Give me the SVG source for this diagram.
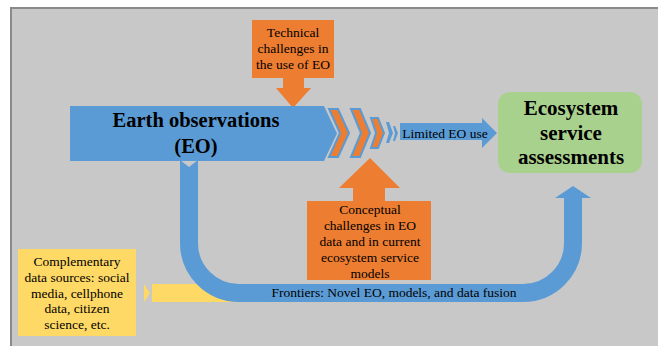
<svg xmlns="http://www.w3.org/2000/svg" width="658" height="346" viewBox="0 0 658 346">
<style>
.t{font-family:'Liberation Serif','Times New Roman',Times,'DejaVu Serif',serif;font-size:13.5px;fill:#000;text-anchor:middle}
.b{font-family:'Liberation Serif','Times New Roman',Times,'DejaVu Serif',serif;font-weight:bold;fill:#000;text-anchor:middle}
.blue{fill:#5b9bd5}
.orange{fill:#ed7d31}
.chev{fill:#ed7d31;stroke:#5b9bd5;stroke-width:2;stroke-linejoin:miter}
</style>
<rect x="0" y="0" width="658" height="346" fill="#ffffff"/>
<rect x="11" y="8" width="648" height="340" fill="#c8c8c8" stroke="#8a8a8a" stroke-width="2"/>

<g id="connectors">
  <rect x="144" y="284" width="100" height="18" fill="#ffd966"/>
  <polygon points="144,284 150,293 144,302 152,302 152,284" fill="#c8c8c8"/>
  <path d="M189,161 V243 A50 50 0 0 0 239 293 H523 A50 50 0 0 0 573 243 V197" fill="none" stroke="#5b9bd5" stroke-width="18"/>
  <polygon points="555,198 591,198 573,186" class="blue"/>
  <polygon points="180,160 198,160 189,167" fill="#c8c8c8"/>
  <polygon points="276,88 283,88 283,78 304,78 304,88 311,88 293,108" class="orange"/>
  <polygon points="339,188 353,188 353,201 385,201 385,188 400,188 370,158" class="orange"/>
  <polygon points="400,123 482,123 482,118 497,133 482,148 482,140 400,140" class="blue"/>
  <text x="445" y="138" class="t">Limited EO use</text>
  <text x="394" y="297" class="t">Frontiers: Novel EO, models, and data fusion</text>
</g>

<g id="eo">
  <polygon points="70,106 324,106 337,133.5 324,161 70,161" class="blue"/>
  <text x="196" y="127" class="b" font-size="20.5">Earth observations</text>
  <text x="196" y="153" class="b" font-size="20.5">(EO)</text>
</g>

<g id="chevrons">
  <polygon points="329,109 338,109 349,133 338,157 329,157 340,133" class="chev"/>
  <polygon points="351,109 360,109 370,133 360,157 351,157 361,133" class="chev"/>
  <polygon points="371,118 378,118 384,133 378,148 371,148 376,133" class="chev"/>
  <polygon points="386,122 389,122 393,133 389,143 386,143 389,133" class="blue"/>
  <polygon points="393,126 395,126 398,133 395,141 393,141 395,133" class="blue"/>
</g>

<g id="technical">
  <rect x="252" y="20" width="82" height="58" class="orange"/>
  <text x="293" y="37" class="t">Technical</text>
  <text x="293" y="53" class="t">challenges in</text>
  <text x="293" y="69" class="t">the use of EO</text>
</g>

<g id="conceptual">
  <rect x="307" y="201" width="124" height="79" class="orange"/>
  <text x="370" y="214" class="t">Conceptual</text>
  <text x="370" y="230" class="t">challenges in EO</text>
  <text x="370" y="246" class="t">data and in current</text>
  <text x="370" y="262" class="t">ecosystem service</text>
  <text x="370" y="278" class="t">models</text>
</g>

<g id="ecosystem">
  <rect x="498" y="92" width="144" height="81" rx="12" fill="#a9d18e"/>
  <text x="571" y="115" class="b" font-size="21">Ecosystem</text>
  <text x="571" y="140" class="b" font-size="21">service</text>
  <text x="571" y="164" class="b" font-size="21">assessments</text>
</g>

<g id="complementary">
  <rect x="18" y="249" width="118" height="87" fill="#ffd966"/>
  <text x="77" y="266" class="t">Complementary</text>
  <text x="77" y="282" class="t">data sources: social</text>
  <text x="77" y="298" class="t">media, cellphone</text>
  <text x="77" y="313" class="t">data, citizen</text>
  <text x="77" y="329" class="t">science, etc.</text>
</g>
</svg>
